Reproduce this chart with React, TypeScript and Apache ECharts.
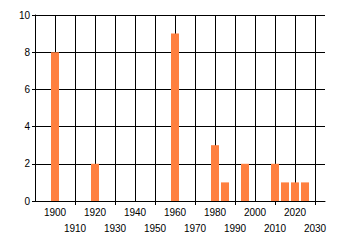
import React, { useEffect, useRef } from "react";
import * as echarts from "echarts";

const years = [1900, 1920, 1960, 1980, 1985, 1995, 2010, 2015, 2020, 2025];
const counts = [8, 2, 9, 3, 1, 2, 2, 1, 1, 1];
const xLabelsRow1 = [1900, 1920, 1940, 1960, 1980, 2000, 2020];
const xLabelsRow2 = [1910, 1930, 1950, 1970, 1990, 2010, 2030];
const xTickValues = [1910, 1930, 1950, 1970, 1990, 2010, 2030];

const labelFont = {
  color: "#000",
  fontFamily: "Liberation Sans, Arial, sans-serif",
  fontSize: 10,
  showMinLabel: true,
  showMaxLabel: true,
  hideOverlap: false,
  formatter: (v: number) => String(v),
};

export default function App() {
  const ref = useRef<HTMLDivElement>(null);
  useEffect(() => {
    if (!ref.current) return;
    const chart = echarts.init(ref.current, null, { renderer: "svg" });
    chart.setOption({
      animation: false,
      grid: { left: 35, top: 15, right: 15, bottom: 44, containLabel: false },
      xAxis: [
        {
          type: "value",
          position: "bottom",
          min: 1890,
          max: 2035,
          interval: 10,
          axisLine: { show: true, lineStyle: { color: "#000", width: 1 } },
          axisTick: { show: false },
          splitLine: { show: true, showMaxLine: false, lineStyle: { color: "#000", width: 1 } },
          axisLabel: { ...labelFont, customValues: xLabelsRow1, margin: 6 },
        },
        {
          type: "value",
          position: "bottom",
          min: 1890,
          max: 2035,
          interval: 10,
          axisLine: { show: false },
          axisTick: { show: true, customValues: xTickValues, length: 4, lineStyle: { color: "#000" } },
          splitLine: { show: false },
          axisLabel: { ...labelFont, customValues: xLabelsRow2, margin: 22 },
        },
      ],
      yAxis: {
        type: "value",
        min: 0,
        max: 10,
        interval: 2,
        axisLine: { show: true, lineStyle: { color: "#000", width: 1 } },
        axisTick: { show: true, length: 3, lineStyle: { color: "#000" } },
        splitLine: { show: true, lineStyle: { color: "#000", width: 1 } },
        axisLabel: { ...labelFont, margin: 5 },
      },
      series: [
        {
          type: "bar",
          xAxisIndex: 0,
          data: years.map((y, i) => [y, counts[i]]),
          barWidth: 8,
          itemStyle: { color: "#FF8040" },
        },
      ],
    });
    return () => chart.dispose();
  }, []);
  return (
    <div
      ref={ref}
      style={{ position: "fixed", left: 0, top: 0, width: 340, height: 245, background: "#fff" }}
    />
  );
}
